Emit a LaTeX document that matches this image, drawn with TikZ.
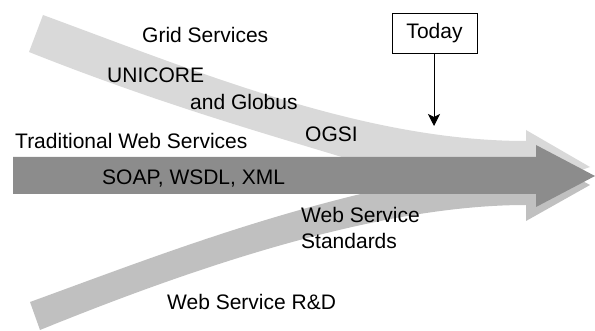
\documentclass[tikz,border=0pt]{standalone}
\usepackage{fontspec}
\setmainfont{Liberation Sans}
\usetikzlibrary{arrows.meta}
\definecolor{bandup}{HTML}{D9D9D9}
\definecolor{banddown}{HTML}{C0C0C0}
\definecolor{mainarrow}{HTML}{8C8C8C}
\begin{document}
\begin{tikzpicture}[x=1pt,y=-1pt,
  lbl/.style={inner sep=0pt,anchor=base west,font=\fontsize{21}{25}\selectfont},
  todaybox/.style={draw,line width=0.9pt,minimum width=85pt,minimum height=40pt,inner sep=0pt,font=\fontsize{21}{25}\selectfont}]
\useasboundingbox (0,0) rectangle (595,331);
% lower band (Web Service R&D)
\fill[banddown] (30,302) .. controls (140,262) and (260,215) .. (400,185) -- (526,160) -- (526,150) -- (590,185) -- (526,221) -- (526,205) .. controls (380,205) and (200,265) .. (40,330) -- cycle;
% upper band (Grid Services)
\fill[bandup] (43,15) .. controls (203,74) and (366,141) .. (526,141) -- (526,130) -- (590,167) -- (526,190) -- (400,175) .. controls (290,140) and (180,112) .. (29,52) -- cycle;
% main arrow (Traditional Web Services)
\fill[mainarrow] (13,157) -- (536,157) -- (536,145) -- (595,176) -- (536,207) -- (536,194) -- (13,194) -- cycle;
% labels
\node[lbl] (grid) at (142,43) {Grid Services};
\node[lbl] (unicore) at (107,83) {UNICORE};
\node[lbl] (globus) at (190,110) {and Globus};
\node[lbl] (trad) at (15,149) {Traditional Web Services};
\node[lbl] (ogsi) at (305,142) {OGSI};
\node[lbl] (soap) at (102,185) {SOAP, WSDL, XML};
\node[lbl] (wss1) at (301,223) {Web Service};
\node[lbl] (wss2) at (301,249) {Standards};
\node[lbl] (rd) at (167,310) {Web Service R\&D};
% today marker
\node[todaybox] (today) at (434.5,33) {Today};
\coordinate (todaytip) at (434,126);
\draw[line width=0.9pt,-{Stealth[length=12pt,width=12pt,inset=3pt]}] (today.south -| todaytip) -- (todaytip);
\end{tikzpicture}
\end{document}
